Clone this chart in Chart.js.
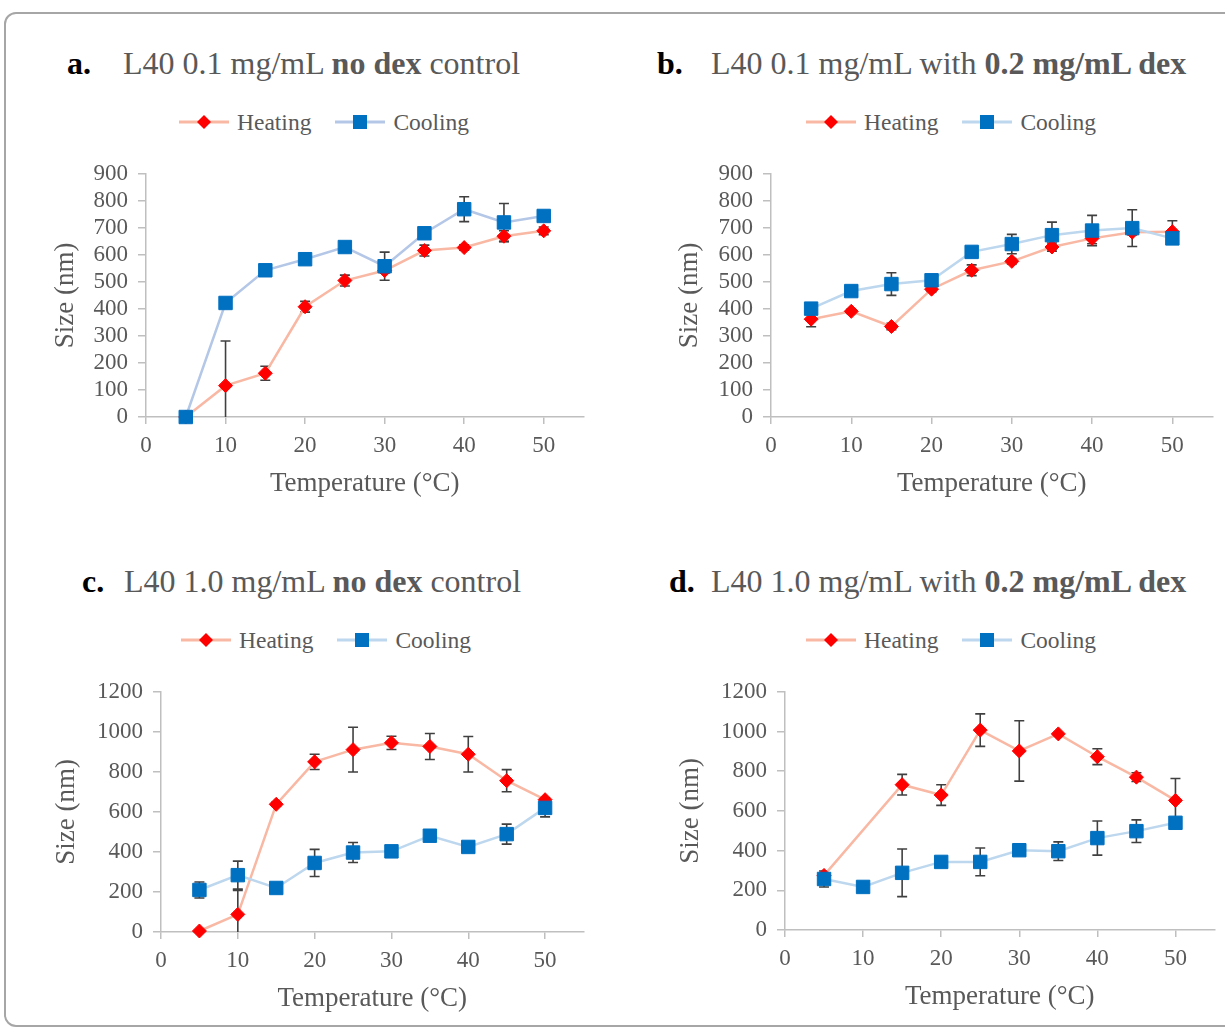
<!DOCTYPE html>
<html lang="en">
<head>
<meta charset="UTF-8">
<title>L40 size vs temperature</title>
<script src="https://cdn.jsdelivr.net/npm/chart.js"></script>
<style>
    body { margin: 0; background: #fff; width: 1225px; height: 1028px; overflow: hidden; position: relative; font-family: "Liberation Serif", "Times New Roman", Tinos, serif; }
    #frame { position: absolute; left: 4px; top: 12px; width: 1260px; height: 1011px; border: 2px solid #a6a6a6; border-radius: 12px; }
    .title { position: absolute; font-size: 32px; color: #595959; white-space: nowrap; line-height: 36px; }
    .title .lbl { color: #000; font-weight: bold; display: inline-block; }
    .title b { font-weight: bold; }
    .legend { position: absolute; font-size: 23.5px; color: #595959; white-space: nowrap; line-height: 28px; }
    .legend span.item { display: inline-flex; align-items: center; margin-right: 24px; }
    .legend svg { margin-right: 8px; }
    canvas { position: absolute; }
</style>
</head>
<body>
<div id="frame"></div>

<div class="title" style="left:67px;top:45px"><span class="lbl" style="width:56px">a.</span>L40 0.1 mg/mL <b>no dex</b> control</div>
<div class="title" style="left:657px;top:45px"><span class="lbl" style="width:54px">b.</span>L40 0.1 mg/mL with <b>0.2 mg/mL dex</b></div>
<div class="title" style="left:82px;top:563px"><span class="lbl" style="width:42px">c.</span>L40 1.0 mg/mL <b>no dex</b> control</div>
<div class="title" style="left:669px;top:563px"><span class="lbl" style="width:42px">d.</span>L40 1.0 mg/mL with <b>0.2 mg/mL dex</b></div>

<div class="legend" id="legA" style="left:179px;top:108px"></div>
<div class="legend" id="legB" style="left:806px;top:108px"></div>
<div class="legend" id="legC" style="left:181px;top:626px"></div>
<div class="legend" id="legD" style="left:806px;top:626px"></div>

<canvas id="cA"></canvas>
<canvas id="cB"></canvas>
<canvas id="cC"></canvas>
<canvas id="cD"></canvas>

<script>
    const temps = [5, 10, 15, 20, 25, 30, 35, 40, 45, 50];
    const xTickValues = [0, 10, 20, 30, 40, 50];
    const seriesNames = ['Heating', 'Cooling'];

    // a. L40 0.1 mg/mL no dex control
    const heatA    = [0, 116, 162, 408, 505, 542, 616, 627, 669, 689];
    const heatAErr = [0, 165, 26, 20, 20, 10, 20, 10, 20, 14];
    const coolA    = [0, 422, 543, 584, 629, 558, 680, 769, 720, 744];
    const coolAErr = [0, 0, 0, 0, 0, 52, 0, 46, 70, 0];

    // b. L40 0.1 mg/mL with 0.2 mg/mL dex
    const heatB    = [362, 391, 335, 473, 543, 576, 629, 661, 684, 686];
    const heatBErr = [28, 8, 12, 10, 20, 10, 15, 20, 10, 40];
    const coolB    = [401, 466, 492, 506, 611, 640, 673, 690, 699, 661];
    const coolBErr = [0, 0, 42, 0, 0, 36, 48, 56, 68, 0];

    // c. L40 1.0 mg/mL no dex control
    const heatC    = [5, 88, 638, 850, 911, 945, 927, 888, 756, 661];
    const heatCErr = [0, 120, 10, 38, 112, 33, 65, 89, 55, 10];
    const coolC    = [210, 284, 220, 345, 397, 403, 481, 425, 489, 620];
    const coolCErr = [40, 70, 0, 68, 50, 10, 0, 20, 50, 45];

    // d. L40 1.0 mg/mL with 0.2 mg/mL dex (no heating point at 10)
    const heatD    = [275, null, 732, 680, 1007, 902, 988, 873, 770, 653];
    const heatDErr = [0, 0, 52, 52, 82, 152, 0, 40, 22, 110];
    const coolD    = [257, 217, 288, 343, 343, 402, 397, 463, 498, 540];
    const coolDErr = [40, 0, 120, 0, 70, 25, 47, 86, 57, 0];

    const gray = '#595959';
    const axisGray = '#bfbfbf';
    const heatLine = '#f9b8a3';
    const heatMark = '#ff0000';
    const coolMark = '#0070c0';
    const serif = "'Liberation Serif', 'Times New Roman', Tinos, serif";

    // simple legend: line + marker, then label
    function legend(id, coolLine) {
        const el = document.getElementById(id);
        el.innerHTML =
            '<span class="item"><svg width="50" height="16"><line x1="0" y1="8" x2="50" y2="8" stroke="' + heatLine + '" stroke-width="3"/>' +
            '<polygon points="25,1 32,8 25,15 18,8" fill="' + heatMark + '"/></svg>' + seriesNames[0] + '</span>' +
            '<span class="item"><svg width="50" height="16"><line x1="0" y1="8" x2="50" y2="8" stroke="' + coolLine + '" stroke-width="3"/>' +
            '<rect x="18" y="1" width="14" height="14" fill="' + coolMark + '"/></svg>' + seriesNames[1] + '</span>';
    }

    // vertical error bars drawn under the markers
    const errorBars = {
        id: 'errorBars',
        beforeDatasetsDraw(chart) {
            const ctx = chart.ctx;
            const area = chart.chartArea;
            const y = chart.scales.y;
            ctx.save();
            ctx.beginPath();
            ctx.rect(area.left, area.top - 20, area.right - area.left, area.bottom - area.top + 20);
            ctx.clip();
            ctx.strokeStyle = '#404040';
            ctx.lineWidth = 1.6;
            chart.data.datasets.forEach((ds, di) => {
                const meta = chart.getDatasetMeta(di);
                ds.errors.forEach((e, i) => {
                    const v = ds.data[i].y;
                    if (v === null || !e) return;
                    const px = meta.data[i].x;
                    const top = y.getPixelForValue(v + e);
                    const bot = y.getPixelForValue(v - e);
                    ctx.beginPath();
                    ctx.moveTo(px, top); ctx.lineTo(px, bot);
                    ctx.moveTo(px - 5, top); ctx.lineTo(px + 5, top);
                    if (v - e >= 0) { ctx.moveTo(px - 5, bot); ctx.lineTo(px + 5, bot); }
                    ctx.stroke();
                });
            });
            ctx.restore();
        }
    };

    function makeChart(id, heat, heatErr, cool, coolErr, coolLine, yMax, yStep, box) {
        // box: plot area + axis title positions, in page pixels
        const left = box.yTitleX - 26;
        const top = box.top - 22;
        const right = box.right + 8;
        const bottom = box.xTitleY + 26;
        const cv = document.getElementById(id);
        cv.style.left = left + 'px';
        cv.style.top = top + 'px';
        cv.width = right - left;
        cv.height = bottom - top;
        const yWidth = box.left - left;
        const xHeight = bottom - box.bottom;

        const tickFont = { family: serif, size: 23 };
        const titleFont = { family: serif, size: 27 };

        new Chart(cv.getContext('2d'), {
            type: 'line',
            data: {
                datasets: [{
                    label: seriesNames[0],
                    data: temps.map((t, i) => ({ x: t, y: heat[i] })),
                    errors: heatErr,
                    borderColor: heatLine,
                    borderWidth: 2.5,
                    pointStyle: 'rectRot',
                    pointRadius: 7,
                    pointBackgroundColor: heatMark,
                    pointBorderColor: heatMark,
                    pointBorderWidth: 1,
                    spanGaps: true,
                    order: 2
                }, {
                    label: seriesNames[1],
                    data: temps.map((t, i) => ({ x: t, y: cool[i] })),
                    errors: coolErr,
                    borderColor: coolLine,
                    borderWidth: 2.5,
                    pointStyle: 'rect',
                    pointRadius: 9.5,
                    pointBackgroundColor: coolMark,
                    pointBorderColor: coolMark,
                    pointBorderWidth: 1,
                    order: 1
                }]
            },
            options: {
                responsive: false,
                animation: false,
                devicePixelRatio: 1,
                clip: false,
                layout: { padding: { top: 22, right: 8, left: 0, bottom: 0 } },
                plugins: { legend: { display: false }, tooltip: { enabled: false } },
                scales: {
                    x: {
                        type: 'linear', min: 0, max: 55,
                        afterBuildTicks: s => { s.ticks = xTickValues.map(v => ({ value: v })); },
                        afterFit: s => { s.height = xHeight; },
                        ticks: { autoSkip: false, color: gray, font: tickFont, padding: 8, maxRotation: 0, callback: v => String(v) },
                        grid: { drawOnChartArea: false, drawTicks: true, tickLength: 7, color: axisGray, lineWidth: 1.5 },
                        border: { color: axisGray, width: 1.5 },
                        title: { display: true, text: 'Temperature (°C)', color: gray, font: titleFont, padding: { top: 0, bottom: 10 } }
                    },
                    y: {
                        min: 0, max: yMax,
                        afterFit: s => { s.width = yWidth; },
                        ticks: { stepSize: yStep, autoSkip: false, color: gray, font: tickFont, padding: 10, callback: v => String(v) },
                        grid: { drawOnChartArea: false, drawTicks: true, tickLength: 8, color: axisGray, lineWidth: 1.5 },
                        border: { color: axisGray, width: 1.5 },
                        title: { display: true, text: 'Size (nm)', color: gray, font: titleFont, padding: { top: 10, bottom: 0 } }
                    }
                }
            },
            plugins: [errorBars]
        });
    }

    legend('legA', '#b4c7e7');
    legend('legB', '#bdd7ee');
    legend('legC', '#bdd7ee');
    legend('legD', '#bdd7ee');

    makeChart('cA', heatA, heatAErr, coolA, coolAErr, '#b4c7e7', 900, 100,
        { left: 146, right: 586, top: 172, bottom: 417, yTitleX: 66, xTitleY: 484 });
    makeChart('cB', heatB, heatBErr, coolB, coolBErr, '#bdd7ee', 900, 100,
        { left: 771, right: 1215, top: 172, bottom: 417, yTitleX: 690, xTitleY: 484 });
    makeChart('cC', heatC, heatCErr, coolC, coolCErr, '#bdd7ee', 1200, 200,
        { left: 161, right: 586, top: 690, bottom: 932, yTitleX: 67, xTitleY: 999 });
    makeChart('cD', heatD, heatDErr, coolD, coolDErr, '#bdd7ee', 1200, 200,
        { left: 785, right: 1217, top: 690, bottom: 930, yTitleX: 691, xTitleY: 997 });
</script>
</body>
</html>
